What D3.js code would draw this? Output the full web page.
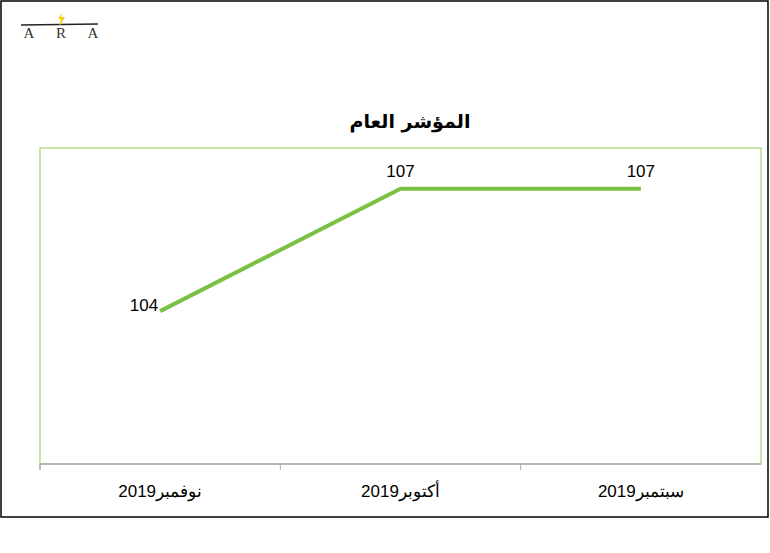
<!DOCTYPE html><html><head><meta charset="utf-8"><script src="https://cdn.jsdelivr.net/npm/d3@7"></script>
<style>body{margin:0;background:#fff}svg{font-family:Arial,"Liberation Sans",sans-serif}</style></head><body>
<svg id="c" width="770" height="553"></svg>
<script>
const categories=["سبتمبر2019","أكتوبر2019","نوفمبر2019"];
const values=[107,107,104];
const title="المؤشر العام";
const svg=d3.select("#c");
svg.append("rect").attr("x",1).attr("y",1).attr("width",767).attr("height",516).attr("fill","#fff").attr("stroke","#000").attr("stroke-width",1.5);
const lg=svg.append("g");
lg.append("line").attr("x1",21).attr("x2",98).attr("y1",25).attr("y2",24).attr("stroke","#222").attr("stroke-width",1.5);
lg.append("path").attr("d","M63,12 L58,19 L61,19 L59,27 L65,17 L61,17 Z").attr("fill","#f5d000");
["A","R","A"].forEach((t,i)=>lg.append("text").attr("x",29+i*32).attr("y",38).attr("text-anchor","middle").attr("font-family","Liberation Serif,serif").attr("font-size",15).attr("letter-spacing",0).attr("fill","#333").text(t));
const L=40,R=761,T=148,B=464;
svg.append("rect").attr("x",L).attr("y",T).attr("width",R-L).attr("height",B-T).attr("fill","none").attr("stroke","#92d050").attr("stroke-width",1);
const x=d3.scaleBand().domain(categories).range([R,L]);
const y=d3.scaleLinear().domain([100.25,108]).range([B,T]);
svg.append("line").attr("x1",L).attr("x2",R).attr("y1",B).attr("y2",B).attr("stroke","#aaa").attr("stroke-width",1.5);
[L,...categories.map(c=>x(c))].forEach(v=>svg.append("line").attr("x1",v).attr("x2",v).attr("y1",B).attr("y2",B+6).attr("stroke","#aaa"));
categories.forEach(c=>svg.append("text").attr("x",x(c)+x.bandwidth()/2).attr("y",497).attr("text-anchor","middle").attr("font-size",17).attr("fill","#000").text(c));
const line=d3.line().x((d,i)=>x(categories[i])+x.bandwidth()/2).y(d=>y(d));
svg.append("path").datum(values).attr("d",line).attr("fill","none").attr("stroke","#7ac143").attr("stroke-width",4);
values.forEach((v,i)=>{const cx=x(categories[i])+x.bandwidth()/2;
 if(i==2) svg.append("text").attr("x",cx-2).attr("y",y(v)).attr("text-anchor","end").attr("font-size",17).text(v);
 else svg.append("text").attr("x",cx).attr("y",y(v)-12).attr("text-anchor","middle").attr("font-size",17).text(v);});
svg.append("text").attr("x",410).attr("y",128).attr("text-anchor","middle").attr("font-size",19).attr("font-weight","bold").attr("font-family","DejaVu Sans,sans-serif").text(title);
</script></body></html>
